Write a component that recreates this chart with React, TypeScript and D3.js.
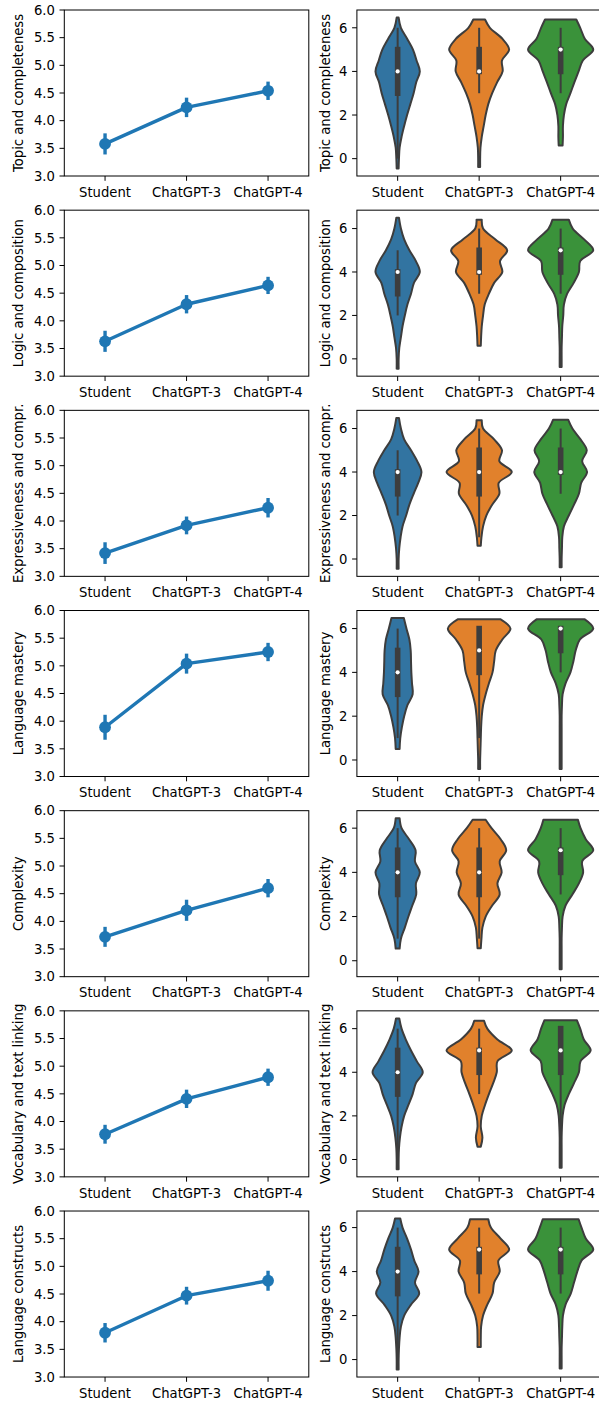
import React from 'react';
import * as d3 from 'd3';

// ---------------- DATA ----------------
const categories = ['Student', 'ChatGPT-3', 'ChatGPT-4'];
const metrics = [
  'Topic and completeness',
  'Logic and composition',
  'Expressiveness and compr.',
  'Language mastery',
  'Complexity',
  'Vocabulary and text linking',
  'Language constructs',
];

// point plot: means and 95% CI half-widths, one entry per metric
const meanStudent = [3.58, 3.63, 3.42, 3.89, 3.72, 3.77, 3.8];
const meanGPT3 = [4.24, 4.3, 3.92, 5.04, 4.2, 4.41, 4.47];
const meanGPT4 = [4.54, 4.64, 4.24, 5.25, 4.6, 4.8, 4.74];
const ciStudent = [0.16, 0.16, 0.165, 0.195, 0.15, 0.14, 0.145];
const ciGPT3 = [0.145, 0.135, 0.13, 0.15, 0.16, 0.135, 0.13];
const ciGPT4 = [0.135, 0.125, 0.145, 0.135, 0.135, 0.125, 0.15];

const leftTicks = [3, 3.5, 4, 4.5, 5, 5.5, 6];
const rightTicks = [0, 2, 4, 6];

// violin density profiles (relative width) at score levels
const violinGrid = [0, 0.5, 1, 1.5, 2, 2.5, 3, 3.5, 4, 4.5, 5, 5.5, 6];
type W = (number | null)[];
const widthsStudent: W[] = [
  [0.04, 0.06, 0.12, 0.2, 0.29, 0.39, 0.49, 0.57, 0.68, 0.58, 0.47, 0.29, 0.1],
  [0.03, 0.05, 0.1, 0.15, 0.22, 0.3, 0.41, 0.5, 0.68, 0.56, 0.36, 0.2, 0.1],
  [0.03, 0.05, 0.09, 0.15, 0.26, 0.36, 0.49, 0.63, 0.73, 0.6, 0.41, 0.2, 0.1],
  [null, null, 0.08, 0.13, 0.2, 0.3, 0.46, 0.44, 0.42, 0.41, 0.4, 0.36, 0.27],
  [null, null, 0.1, 0.22, 0.33, 0.45, 0.57, 0.56, 0.68, 0.53, 0.55, 0.35, 0.12],
  [0.03, 0.04, 0.07, 0.12, 0.2, 0.33, 0.46, 0.56, 0.77, 0.59, 0.41, 0.25, 0.12],
  [0.03, 0.04, 0.06, 0.1, 0.2, 0.41, 0.66, 0.53, 0.64, 0.51, 0.41, 0.29, 0.15],
];
const widthsGPT3: W[] = [
  [0.03, 0.04, 0.08, 0.14, 0.2, 0.28, 0.4, 0.55, 0.72, 0.7, 0.92, 0.71, 0.33],
  [null, null, 0.06, 0.08, 0.12, 0.17, 0.3, 0.46, 0.71, 0.64, 0.86, 0.5, 0.12],
  [null, null, 0.07, 0.12, 0.22, 0.4, 0.62, 0.6, 1.0, 0.62, 0.7, 0.46, 0.12],
  [0.03, 0.04, 0.05, 0.06, 0.08, 0.12, 0.2, 0.3, 0.41, 0.46, 0.51, 0.71, 0.96],
  [null, null, 0.07, 0.1, 0.2, 0.4, 0.63, 0.56, 0.69, 0.63, 0.83, 0.66, 0.38],
  [null, null, 0.1, 0.05, 0.08, 0.18, 0.3, 0.43, 0.54, 0.56, 1.0, 0.56, 0.25],
  [null, null, 0.05, 0.06, 0.12, 0.25, 0.41, 0.46, 0.63, 0.59, 0.92, 0.66, 0.36],
];
const widthsGPT4: W[] = [
  [null, null, 0.07, 0.07, 0.1, 0.17, 0.3, 0.42, 0.55, 0.68, 1.0, 0.74, 0.6],
  [0.03, 0.03, 0.04, 0.05, 0.08, 0.1, 0.2, 0.4, 0.56, 0.6, 1.0, 0.72, 0.37],
  [0.03, 0.04, 0.05, 0.1, 0.25, 0.41, 0.56, 0.63, 0.81, 0.66, 0.8, 0.61, 0.36],
  [0.03, 0.03, 0.03, 0.03, 0.03, 0.04, 0.06, 0.15, 0.3, 0.39, 0.46, 0.59, 1.0],
  [0.03, 0.03, 0.03, 0.04, 0.06, 0.15, 0.36, 0.56, 0.69, 0.66, 1.0, 0.77, 0.61],
  [0.03, 0.03, 0.03, 0.04, 0.06, 0.12, 0.25, 0.41, 0.56, 0.61, 0.92, 0.71, 0.6],
  [0.03, 0.03, 0.04, 0.05, 0.07, 0.15, 0.31, 0.41, 0.51, 0.64, 1.0, 0.77, 0.64],
];
// violin ends: [score, relative width]
const topStudent: [number, number][] = [[6.47, 0.03], [6.5, 0.04], [6.49, 0.04], [6.48, 0.19], [6.45, 0.06], [6.47, 0.05], [6.41, 0.08]];
const bottomStudent: [number, number][] = [[-0.45, 0.03], [-0.45, 0.03], [-0.45, 0.03], [0.5, 0.06], [0.55, 0.06], [-0.45, 0.03], [-0.45, 0.03]];
const topGPT3: [number, number][] = [[6.38, 0.18], [6.41, 0.08], [6.38, 0.08], [6.42, 0.66], [6.38, 0.2], [6.36, 0.15], [6.38, 0.28]];
const bottomGPT3: [number, number][] = [[-0.38, 0.03], [0.6, 0.05], [0.61, 0.05], [-0.41, 0.03], [0.57, 0.05], [0.59, 0.05], [0.57, 0.05]];
const topGPT4: [number, number][] = [[6.38, 0.48], [6.41, 0.25], [6.41, 0.23], [6.42, 0.74], [6.38, 0.53], [6.38, 0.5], [6.38, 0.55]];
const bottomGPT4: [number, number][] = [[0.6, 0.06], [-0.38, 0.03], [-0.38, 0.03], [-0.41, 0.03], [-0.38, 0.03], [-0.38, 0.03], [-0.4, 0.03]];

// inner box: [whisker low, q1, median, q3, whisker high]
const boxStudent = [[0, 3, 4, 5, 6], [2, 3, 4, 4, 5], [2, 3, 4, 4, 5], [1, 3, 4, 5, 6], [1, 3, 4, 5, 6], [0, 3, 4, 5, 6], [0, 3, 4, 5, 6]];
const boxGPT3 = [[3, 4, 4, 5, 6], [3, 4, 4, 5, 6], [1, 3, 4, 5, 6], [1, 4, 5, 6, 6], [1, 3, 4, 5, 6], [3, 4, 5, 5, 6], [3, 4, 5, 5, 6]];
const boxGPT4 = [[3, 4, 5, 5, 6], [3, 4, 5, 5, 6], [3, 4, 4, 5, 6], [4, 5, 6, 6, 6], [3, 4, 5, 5, 6], [1, 4, 5, 6, 6], [3, 4, 5, 5, 6]];

const violinColors = ['#3274a1', '#e1812c', '#3a923a'];

// ---------------- LAYOUT ----------------
const WIDTH = 599;
const HEIGHT = 1404;
const top0 = 10;
const rowStep = 200.17;
const axH = 166;
const leftX0 = 64.3;
const rightX0 = 356.9;
const axW = 244.5;
const FS = 13.2;
const FONT = '"DejaVu Sans", Verdana, sans-serif';
const POINT_COLOR = '#1f77b4';
const EDGE = '#3d3d3d';
const TICK = 4.8;

function PointPanel({ i }: { i: number }) {
  const top = top0 + i * rowStep;
  const x = d3.scalePoint<string>().domain(categories).range([leftX0, leftX0 + axW]).padding(0.5);
  const y = d3.scaleLinear().domain([3, 6]).range([top + axH, top]);
  const means = [meanStudent[i], meanGPT3[i], meanGPT4[i]];
  const cis = [ciStudent[i], ciGPT3[i], ciGPT4[i]];
  const pts: [number, number][] = categories.map((c, k) => [x(c)!, y(means[k])]);
  const line = d3.line()(pts) || '';
  const fmt = d3.format('.1f');
  return (
    <g>
      <path d={line} fill="none" stroke={POINT_COLOR} strokeWidth={3.4} strokeLinejoin="round" />
      {categories.map((c, k) => (
        <line key={c} x1={x(c)} x2={x(c)} y1={y(means[k] - cis[k])} y2={y(means[k] + cis[k])}
          stroke={POINT_COLOR} strokeWidth={3.4} strokeLinecap="square" />
      ))}
      {categories.map((c, k) => (
        <circle key={c} cx={x(c)} cy={y(means[k])} r={5.9} fill={POINT_COLOR} />
      ))}
      <rect x={leftX0} y={top} width={axW} height={axH} fill="none" stroke="#000" strokeWidth={1} />
      {leftTicks.map((t) => (
        <g key={t}>
          <line x1={leftX0 - TICK} x2={leftX0} y1={y(t)} y2={y(t)} stroke="#000" strokeWidth={1} />
          <text x={leftX0 - TICK - 4.6} y={y(t)} dy="0.36em" textAnchor="end" fontSize={FS}>{fmt(t)}</text>
        </g>
      ))}
      {categories.map((c) => (
        <g key={c}>
          <line x1={x(c)} x2={x(c)} y1={top + axH} y2={top + axH + TICK} stroke="#000" strokeWidth={1} />
          <text x={x(c)} y={top + axH + 20.7} textAnchor="middle" fontSize={FS}>{c}</text>
        </g>
      ))}
      <text transform={`translate(23,${top + axH / 2}) rotate(-90)`} textAnchor="middle" fontSize={FS}>{metrics[i]}</text>
    </g>
  );
}

function ViolinPanel({ i }: { i: number }) {
  const top = top0 + i * rowStep;
  const x = d3.scaleBand<string>().domain(categories).range([rightX0, rightX0 + axW]);
  const widths = [widthsStudent[i], widthsGPT3[i], widthsGPT4[i]];
  const tops = [topStudent[i], topGPT3[i], topGPT4[i]];
  const bottoms = [bottomStudent[i], bottomGPT3[i], bottomGPT4[i]];
  const boxes = [boxStudent[i], boxGPT3[i], boxGPT4[i]];
  const lo = d3.min(bottoms, (b) => b[0])!;
  const hi = d3.max(tops, (t) => t[0])!;
  const pad = (hi - lo) * 0.05;
  const y = d3.scaleLinear().domain([lo - pad, hi + pad]).range([top + axH, top]);
  const maxW = x.bandwidth() * 0.4;

  return (
    <g>
      {categories.map((c, k) => {
        const cx = x(c)! + x.bandwidth() / 2;
        const b = bottoms[k];
        const t = tops[k];
        const pts: [number, number][] = [b];
        violinGrid.forEach((v, j) => {
          const w = widths[k][j];
          if (w !== null && v > b[0] + 1e-6 && v < t[0] - 1e-6) pts.push([v, w]);
        });
        pts.push(t);
        const area = d3.area<[number, number]>()
          .x0((d) => cx - d[1] * maxW)
          .x1((d) => cx + d[1] * maxW)
          .y((d) => y(d[0]))
          .curve(d3.curveCatmullRom.alpha(0.5))(pts) || '';
        const [wl, q1, med, q3, wh] = boxes[k];
        return (
          <g key={c}>
            <path d={area} fill={violinColors[k]} stroke={EDGE} strokeWidth={2} strokeLinejoin="round" />
            <line x1={cx} x2={cx} y1={y(wl)} y2={y(wh)} stroke={EDGE} strokeWidth={2} />
            <line x1={cx} x2={cx} y1={y(q1)} y2={y(q3)} stroke={EDGE} strokeWidth={5.6} strokeLinecap="square" />
            <circle cx={cx} cy={y(med)} r={2.1} fill="#fff" />
          </g>
        );
      })}
      <rect x={rightX0} y={top} width={axW} height={axH} fill="none" stroke="#000" strokeWidth={1} />
      {rightTicks.map((t) => (
        <g key={t}>
          <line x1={rightX0 - TICK} x2={rightX0} y1={y(t)} y2={y(t)} stroke="#000" strokeWidth={1} />
          <text x={rightX0 - TICK - 4.6} y={y(t)} dy="0.36em" textAnchor="end" fontSize={FS}>{t}</text>
        </g>
      ))}
      {categories.map((c) => {
        const cx = x(c)! + x.bandwidth() / 2;
        return (
          <g key={c}>
            <line x1={cx} x2={cx} y1={top + axH} y2={top + axH + TICK} stroke="#000" strokeWidth={1} />
            <text x={cx} y={top + axH + 20.7} textAnchor="middle" fontSize={FS}>{c}</text>
          </g>
        );
      })}
      <text transform={`translate(329.6,${top + axH / 2}) rotate(-90)`} textAnchor="middle" fontSize={FS}>{metrics[i]}</text>
    </g>
  );
}

export default function App() {
  return (
    <svg width={WIDTH} height={HEIGHT} viewBox={`0 0 ${WIDTH} ${HEIGHT}`}
      style={{ position: 'absolute', left: 0, top: 0, background: '#fff' }}
      fontFamily={FONT} fill="#000">
      <rect x={0} y={0} width={WIDTH} height={HEIGHT} fill="#fff" />
      {metrics.map((m, i) => (
        <g key={m}>
          <PointPanel i={i} />
          <ViolinPanel i={i} />
        </g>
      ))}
    </svg>
  );
}
